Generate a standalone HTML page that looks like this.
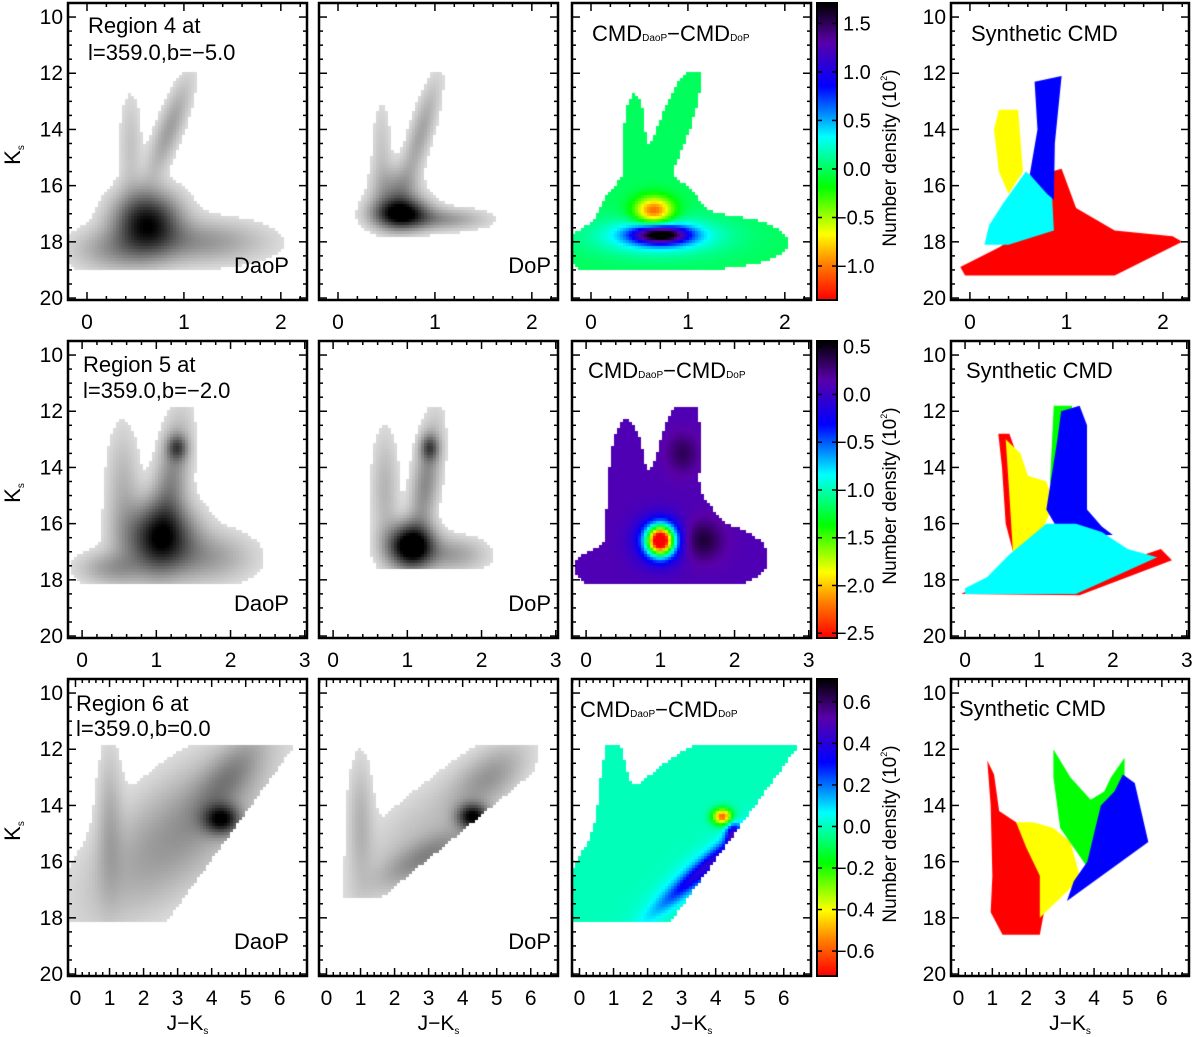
<!DOCTYPE html>
<html><head><meta charset="utf-8">
<style>
body{margin:0;background:#fff;}
#fig{position:relative;width:1200px;height:1037px;overflow:hidden;background:#fff;font-family:"Liberation Sans",Arial,sans-serif;}
canvas{position:absolute;}
svg{position:absolute;left:0;top:0;}
</style></head>
<body>
<div id="fig">
<svg id="ov" width="1200" height="1037"></svg>
</div>
<script>
// ---------- data (density components: [x0, K0, sigmaX, sigmaK, slope dx/dK, amplitude]) ----------
const daop4 = [[0.62,17.3,0.22,0.7,0,1.1],[0.85,14.0,0.09,1.2,-0.1,0.3],[0.45,14.6,0.08,1.3,0,0.14],[1.15,18.0,0.45,0.5,0,0.35],[0.3,18.3,0.3,0.5,0,0.3]];
const dop4 = [[0.65,17.0,0.18,0.35,0,1.2],[0.85,14.2,0.08,1.3,-0.08,0.28],[0.45,14.8,0.07,1.2,0,0.13],[1.05,17.2,0.3,0.25,0,0.35],[0.6,16.3,0.15,0.6,0,0.4]];
const diff4 = [[0.65,16.9,0.14,0.35,0,-1.1],[0.72,17.75,0.2,0.22,0,1.5],[0.7,17.8,0.45,0.45,0,0.5]];
const daop5 = [[1.05,16.5,0.3,0.8,0,1.1],[1.28,13.3,0.09,0.3,0,0.6],[1.2,14.5,0.15,1.5,-0.05,0.4],[0.55,14.8,0.15,1.5,0,0.2],[1.7,17.2,0.4,0.6,0,0.3],[0.4,17.6,0.3,0.4,0,0.3]];
const dop5 = [[1.05,16.8,0.2,0.5,0,1.5],[1.3,13.3,0.08,0.3,0,0.6],[1.25,14.5,0.12,1.4,-0.05,0.4],[0.7,14.8,0.12,1.4,0,0.2],[1.6,17.1,0.3,0.4,0,0.3]];
const diff5 = [[1.0,16.6,0.12,0.35,0,-2.4],[1.0,16.6,0.22,0.55,0,-0.8],[1.55,16.6,0.2,0.5,0,0.35],[1.3,13.5,0.15,0.5,0,0.25]];
const daop6 = [[4.3,14.5,0.35,0.35,0,1.0],[3.0,15.0,1.3,2.0,-0.6,0.35],[1.0,14.5,0.25,1.8,0,0.2],[4.5,13.0,0.5,1.0,-0.5,0.3]];
const dop6 = [[4.3,14.4,0.3,0.3,0,1.1],[3.0,15.8,0.6,0.7,-1.0,0.35],[1.0,14.5,0.25,1.5,0,0.2],[4.8,13.0,0.6,0.8,-0.5,0.3],[2.8,15.0,1.0,1.6,-0.6,0.15]];
const diff6 = [[3.7,16.2,0.25,1.0,-0.9,0.3],[3.7,16.2,0.5,1.1,-0.9,0.12],[4.5,15.0,0.15,0.3,0,0.35],[4.2,14.4,0.2,0.2,0,-0.6]];
// K limits [bright, faint] per panel
const lim4 = [12.0,19.0], limDop4 = [12.0,17.8];
const lim5 = [11.8,18.2], limDop5 = [11.8,17.6];
const lim6 = [11.8,18.2], limDop6 = [11.8,17.3];
// right-edge cut: [Kref, xref, slope]
const edgeDaop6 = [17.6,3.0,-0.6];
const edgeDop6 = [17.3,1.6,-1.0];
// colorbar ranges and ticks
const cbRange4 = [-1.35,1.71], cbTicks4 = [1.5,1.0,0.5,0.0,-0.5,-1.0];
const cbRange5 = [-2.55,0.56], cbTicks5 = [0.5,0.0,-0.5,-1.0,-1.5,-2.0,-2.5];
const cbRange6 = [-0.72,0.71], cbTicks6 = [0.6,0.4,0.2,0.0,-0.2,-0.4,-0.6];
const diffBase = [0.0,0.1,0.0];
// synthetic CMD regions (J-Ks, Ks vertices)
const syn4Red = [[-0.05,19.2],[1.5,19.2],[2.2,18.0],[2.1,17.8],[1.5,17.6],[1.1,16.8],[0.95,15.4],[0.85,15.5],[0.85,17],[0.3,18.2],[-0.1,18.9]];
const syn4Cyan = [[0.15,18.1],[0.2,17.4],[0.35,16.6],[0.58,15.5],[0.85,16.3],[0.87,17.6],[0.4,18.1]];
const syn4Yellow = [[0.3,13.3],[0.5,13.3],[0.55,15.5],[0.4,16.3],[0.3,15.5],[0.25,14]];
const syn4Blue = [[0.67,12.3],[0.95,12.1],[0.88,14.5],[0.87,16.5],[0.8,16.3],[0.62,15.6],[0.7,14]];
const syn5Red = [[-0.05,18.5],[1.55,18.55],[2.8,17.3],[2.65,16.9],[2.2,17.3],[0.6,17.2],[0.3,18]];
const syn5Red2 = [[0.45,12.8],[0.6,12.8],[0.8,14.3],[0.65,17],[0.55,16],[0.5,14]];
const syn5Yellow = [[0.55,13],[0.75,13.5],[0.85,14.3],[1.1,14.5],[1.2,15.3],[1.0,16.5],[0.65,17.1],[0.6,15]];
const syn5Green = [[1.2,11.8],[1.45,11.8],[1.35,14.5],[1.25,15.5],[1.15,14.5]];
const syn5Blue = [[1.3,12.0],[1.55,11.8],[1.65,12.5],[1.65,15.5],[1.85,16.1],[2.0,16.4],[1.3,16.4],[1.1,15.5],[1.25,13]];
const syn5Cyan = [[0.0,18.5],[1.5,18.5],[2.6,17.2],[2.2,16.9],[1.85,16.3],[1.5,16.0],[1.1,16.0],[0.6,17.1],[0.3,17.9],[0.0,18.3]];
const syn6Red = [[0.85,12.4],[1.05,12.9],[1.2,14.2],[1.7,14.6],[2.5,16.0],[2.6,17.3],[2.4,18.6],[1.3,18.6],[0.95,17.8],[1.0,16.5],[0.95,14]];
const syn6Yellow = [[1.7,14.6],[2.2,14.6],[2.8,14.8],[3.3,15.3],[3.6,16.6],[2.4,18.0],[2.4,16.5],[2.0,15.5]];
const syn6Green = [[2.8,12],[3.3,13.0],[3.9,13.8],[4.3,13.5],[4.5,13.0],[4.9,12.3],[4.9,14.8],[3.8,16.2],[3.4,15.5],[3.0,14.8],[2.8,13]];
const syn6Blue = [[4.2,14],[4.6,13.5],[4.85,12.9],[5.2,13.2],[5.6,15.3],[3.2,17.4],[3.4,16.7],[3.8,16.0],[4.0,15]];
const yTicks = [10,12,14,16,18,20];
const xTicks4 = [0,1,2], xTicks5 = [0,1,2,3], xTicks6 = [0,1,2,3,4,5,6];

// ---------- layout ----------
const COLS=[{x:68,w:239},{x:319,w:239},{x:572,w:239},{x:951,w:238}];
const CB={x:817,w:20};
const ROWS=[{y:3,xr:[-0.196,2.27]},{y:341,xr:[-0.19,3.03]},{y:679,xr:[-0.22,6.8]}];
const H=297, K0=9.5, K1=20.07;
const fig=document.getElementById('fig'), ov=document.getElementById('ov');
const NS='http://www.w3.org/2000/svg';
function mk(tag,attrs){const e=document.createElementNS(NS,tag);for(const k in attrs)e.setAttribute(k,attrs[k]);ov.appendChild(e);return e;}
function xpx(col,row,x){const r=ROWS[row].xr;return COLS[col].x+(x-r[0])/(r[1]-r[0])*COLS[col].w;}
function ypx(row,K){return ROWS[row].y+(K-K0)/(K1-K0)*H;}
function dens(c,x,K){let s=0;for(const p of c){const dx=x-(p[0]+p[4]*(K-p[1])),dk=K-p[1];s+=p[5]*Math.exp(-0.5*(dx*dx/(p[2]*p[2])+dk*dk/(p[3]*p[3])));}return s;}
const STOPS=[[0,[255,0,0]],[0.12,[255,128,0]],[0.22,[255,255,0]],[0.38,[0,255,0]],[0.55,[0,255,255]],[0.72,[0,0,255]],[0.87,[90,0,170]],[1,[0,0,0]]];
function cmap(t){t=Math.max(0,Math.min(1,t));for(let i=1;i<STOPS.length;i++){if(t<=STOPS[i][0]){const a=STOPS[i-1],b=STOPS[i],f=(t-a[0])/(b[0]-a[0]);return 'rgb('+a[1].map((v,j)=>Math.round(v+(b[1][j]-v)*f)).join(',')+')';}}return 'rgb(0,0,0)';}
function mkCanvas(col,row,name){const c=document.createElement('canvas');c.width=COLS[col].w;c.height=H;c.style.left=COLS[col].x+'px';c.style.top=ROWS[row].y+'px';


fig.insertBefore(c,ov);return c.getContext('2d');}
const CELL=3,THR=0.05;
function inside(x,K,lim,edge){if(K<lim[0]||K>lim[1])return false;if(edge&&x>edge[1]+edge[2]*(K-edge[0]))return false;return true;}
function forCells(col,row,fn){const r=ROWS[row].xr,w=COLS[col].w;for(let px=0;px<w;px+=CELL)for(let py=0;py<H;py+=CELL){const x=r[0]+(px+1.5)/w*(r[1]-r[0]);const K=K0+(py+1.5)/H*(K1-K0);fn(px,py,x,K);}}
function drawGrey(col,row,comps,lim,edge,name){const ctx=mkCanvas(col,row,name);forCells(col,row,(px,py,x,K)=>{if(!inside(x,K,lim,edge))return;const d=dens(comps,x,K);if(d<THR)return;const g=Math.round(238*(1-Math.pow(Math.min(d,1.2)/1.2,0.8)));ctx.fillStyle='rgb('+g+','+g+','+g+')';ctx.fillRect(px,py,CELL,CELL);});}
function drawDiff(col,row,support,lim,edge,comps,base,range,name){const ctx=mkCanvas(col,row,name);forCells(col,row,(px,py,x,K)=>{if(!inside(x,K,lim,edge))return;if(dens(support,x,K)<THR)return;const v=base+dens(comps,x,K);ctx.fillStyle=cmap((v-range[0])/(range[1]-range[0]));ctx.fillRect(px,py,CELL,CELL);});}
function drawSyn(col,row,polys,name){const ctx=mkCanvas(col,row,name);for(const [pts,color] of polys){ctx.beginPath();pts.forEach((p,i)=>{const X=xpx(col,row,p[0])-COLS[col].x,Y=ypx(row,p[1])-ROWS[row].y;i?ctx.lineTo(X,Y):ctx.moveTo(X,Y);});ctx.closePath();ctx.fillStyle=color;ctx.fill();}}
function drawCB(row,range,ticks){const c=document.createElement('canvas');c.width=CB.w;c.height=H;c.style.left=CB.x+'px';c.style.top=ROWS[row].y+'px';


fig.insertBefore(c,ov);const ctx=c.getContext('2d');for(let py=0;py<H;py++){ctx.fillStyle=cmap(1-py/(H-1));ctx.fillRect(0,py,CB.w,1);}
const fr=mk('rect',{x:CB.x,y:ROWS[row].y,width:CB.w,height:H,fill:'none',stroke:'#000','stroke-width':2});


for(const t of ticks){const y=ROWS[row].y+(range[1]-t)/(range[1]-range[0])*H;
mk('line',{x1:CB.x,x2:CB.x+5,y1:y,y2:y,stroke:'#000','stroke-width':1.5});
mk('line',{x1:CB.x+CB.w-5,x2:CB.x+CB.w,y1:y,y2:y,stroke:'#000','stroke-width':1.5});
const tx=mk('text',{x:t<0?835:843,y:y+7,'font-size':20});tx.textContent=(t<0?'\u2212':'')+Math.abs(t).toFixed(1);

}
const lab=mk('text',{x:0,y:0,'font-size':19,'text-anchor':'middle',transform:'translate(896,'+(ROWS[row].y+155)+') rotate(-90)'});
lab.innerHTML='Number density (10<tspan font-size="9" dy="-9">2</tspan><tspan dy="9">)</tspan>';

}
function axes(col,row,xt,showY,showXlab){const X=COLS[col].x,W=COLS[col].w,Y=ROWS[row].y,r=ROWS[row].xr;
const fr=mk('rect',{x:X,y:Y,width:W,height:H,fill:'none',stroke:'#000','stroke-width':2.5});


for(let v=Math.ceil(r[0]/0.2)*0.2;v<=r[1]+1e-9;v+=0.2){const px=xpx(col,row,v);const maj=Math.abs(v-Math.round(v))<1e-6;const L=maj?8:4;
mk('line',{x1:px,x2:px,y1:Y+H,y2:Y+H-L,stroke:'#000','stroke-width':1.5});mk('line',{x1:px,x2:px,y1:Y,y2:Y+L,stroke:'#000','stroke-width':1.5});}
for(let k=10;k<=20;k+=0.5){const py=ypx(row,k);const L=(k%2===0)?8:4;
mk('line',{x1:X,x2:X+L,y1:py,y2:py,stroke:'#000','stroke-width':1.5});mk('line',{x1:X+W,x2:X+W-L,y1:py,y2:py,stroke:'#000','stroke-width':1.5});}
for(const t of xt){const tl=mk('text',{x:xpx(col,row,t),y:Y+H+29,'font-size':21,'text-anchor':'middle'});tl.textContent=t;

}
if(showY){for(const t of yTicks){const tl=mk('text',{x:X-5,y:ypx(row,t)+7,'font-size':21,'text-anchor':'end'});tl.textContent=t;

}}
if(showXlab){const xl=mk('text',{x:X+W/2,y:1030,'font-size':21,'text-anchor':'middle'});xl.innerHTML='J\u2212K<tspan font-size="10" dy="4">s</tspan>';

}}
function txt(x,y,s,name,anchor,size){const t=mk('text',{x:x,y:y,'font-size':size||22,'text-anchor':anchor||'start'});t.innerHTML=s;

return t;}

// ---------- render ----------
const D=[[daop4,dop4,diff4,lim4,limDop4,null,null,cbRange4,cbTicks4],[daop5,dop5,diff5,lim5,limDop5,null,null,cbRange5,cbTicks5],[daop6,dop6,diff6,lim6,limDop6,edgeDaop6,edgeDop6,cbRange6,cbTicks6]];
const XT=[xTicks4,xTicks5,xTicks6];
const SYN=[[[syn4Red,'#ff0000'],[syn4Cyan,'#00ffff'],[syn4Yellow,'#ffff00'],[syn4Blue,'#0000ff']],
[[syn5Red,'#ff0000'],[syn5Red2,'#ff0000'],[syn5Yellow,'#ffff00'],[syn5Green,'#00ff00'],[syn5Blue,'#0000ff'],[syn5Cyan,'#00ffff']],
[[syn6Red,'#ff0000'],[syn6Yellow,'#ffff00'],[syn6Green,'#00ff00'],[syn6Blue,'#0000ff']]];
for(let row=0;row<3;row++){const d=D[row];
drawGrey(0,row,d[0],d[3],d[5],'daop-density-'+(row+4));
drawGrey(1,row,d[1],d[4],d[6],'dop-density-'+(row+4));
drawDiff(2,row,d[0],d[3],d[5],d[2],diffBase[row],d[7],'difference-map-'+(row+4));
drawSyn(3,row,SYN[row],'synthetic-cmd-'+(row+4));
drawCB(row,d[7],d[8]);
for(let col=0;col<4;col++)axes(col,row,XT[row],col===0||col===3,row===2);
const ks=mk('text',{x:0,y:0,'font-size':22,'text-anchor':'middle',transform:'translate(20,'+(ROWS[row].y+152)+') rotate(-90)'});
ks.innerHTML='K<tspan font-size="10" dy="4">s</tspan>';


const Y=ROWS[row].y;
txt(COLS[0].x+COLS[0].w-18,Y+270,'DaoP','daop-label','end');
txt(COLS[1].x+COLS[1].w-7,Y+270,'DoP','dop-label','end');
txt([592,588,580][row],Y+[38,37,38][row],'CMD<tspan font-size="10">DaoP</tspan>\u2212CMD<tspan font-size="10">DoP</tspan>','diff-title');
txt([971,966,959][row],Y+[38,37,37][row],'Synthetic CMD','synthetic-title');
}
txt(88,33,'Region 4 at','region-title');
txt(88,60,'l=359.0,b=\u22125.0','region-coords');
txt(83,372,'Region 5 at','region-title');
txt(83,398,'l=359.0,b=\u22122.0','region-coords');
txt(76,711,'Region 6 at','region-title');
txt(76,736,'l=359.0,b=0.0','region-coords');
</script>
</body></html>
